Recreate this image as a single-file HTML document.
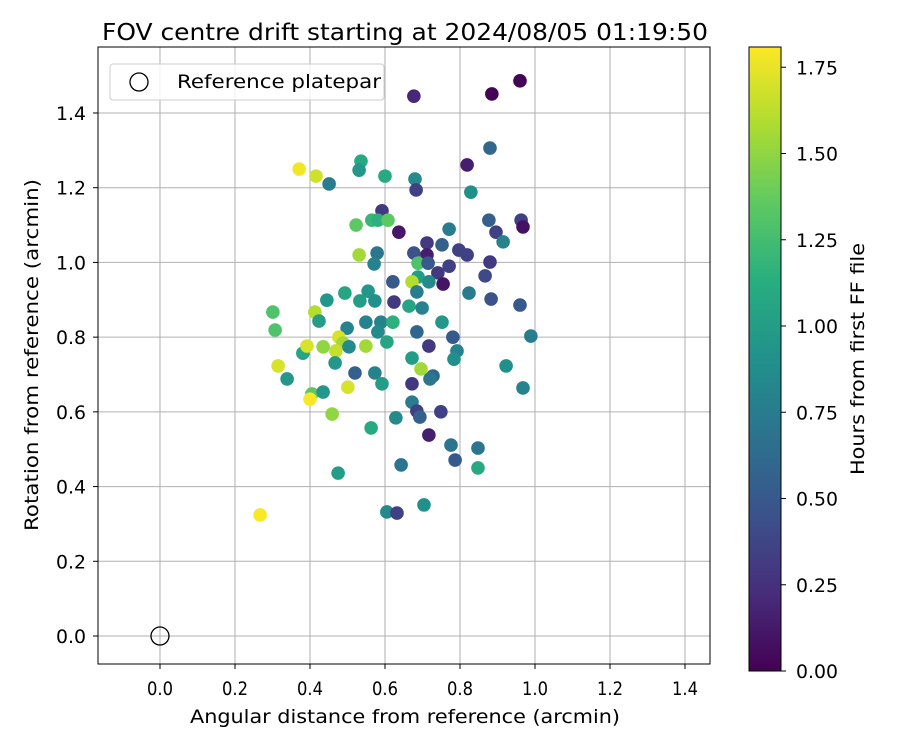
<!DOCTYPE html>
<html><head><meta charset="utf-8">
<style>
html,body{margin:0;padding:0;background:#fff;}
svg text{font-family:"DejaVu Sans","Liberation Sans",sans-serif;fill:#000;}
</style></head>
<body>
<svg id="chart" width="900" height="750" viewBox="0 0 900 750" xmlns="http://www.w3.org/2000/svg">
<defs>
<linearGradient id="vir" x1="0" y1="1" x2="0" y2="0">
<stop offset="0" stop-color="#440154"/><stop offset="0.125" stop-color="#472d7b"/>
<stop offset="0.25" stop-color="#3b528b"/><stop offset="0.375" stop-color="#2c728e"/>
<stop offset="0.5" stop-color="#21918c"/><stop offset="0.625" stop-color="#28ae80"/>
<stop offset="0.75" stop-color="#5ec962"/><stop offset="0.875" stop-color="#addc30"/>
<stop offset="1" stop-color="#fde725"/>
</linearGradient>
</defs>
<text x="405" y="40" font-size="23" text-anchor="middle" textLength="606" lengthAdjust="spacingAndGlyphs">FOV centre drift starting at 2024/08/05 01:19:50</text>
<g id="grid"></g>
<g id="points"></g>
<rect x="98" y="47" width="612" height="617" fill="none" stroke="#000" stroke-width="1"/>
<g id="xticks"></g>
<g id="yticks"></g>
<text x="405" y="723" font-size="19" text-anchor="middle" textLength="430" lengthAdjust="spacingAndGlyphs">Angular distance from reference (arcmin)</text>
<text transform="translate(38,355) rotate(-90)" font-size="19" text-anchor="middle" textLength="352" lengthAdjust="spacingAndGlyphs">Rotation from reference (arcmin)</text>
<g>
<rect x="110" y="64" width="274" height="36" rx="3" fill="#fff" fill-opacity="0.8" stroke="#ccc"/>
<circle cx="139" cy="82" r="9" fill="none" stroke="#000" stroke-width="1.3"/>
<text x="177" y="88" font-size="19" textLength="204" lengthAdjust="spacingAndGlyphs">Reference platepar</text>
</g>
<g>
<rect x="749" y="47" width="32" height="624" fill="url(#vir)" stroke="#000" stroke-width="1"/>
<g id="cticks"></g>
<text transform="translate(864,359) rotate(-90)" font-size="19" text-anchor="middle" textLength="232" lengthAdjust="spacingAndGlyphs">Hours from first FF file</text>
</g>
</svg>
<script>
const xTickLabels=["0.0","0.2","0.4","0.6","0.8","1.0","1.2","1.4"];
const xTickValues=[0,0.2,0.4,0.6,0.8,1.0,1.2,1.4];
const yTickLabels=["0.0","0.2","0.4","0.6","0.8","1.0","1.2","1.4"];
const yTickValues=[0,0.2,0.4,0.6,0.8,1.0,1.2,1.4];
const cTickLabels=["0.00","0.25","0.50","0.75","1.00","1.25","1.50","1.75"];
const cTickValues=[0,0.25,0.5,0.75,1.0,1.25,1.5,1.75];
const xs=[0.677,0.885,0.960,0.371,0.416,0.451,0.536,0.531,0.600,0.680,0.683,0.592,0.523,0.565,0.581,0.608,0.637,0.771,0.712,0.752,0.531,0.579,0.571,0.677,0.712,0.688,0.715,0.771,0.741,0.755,0.621,0.688,0.672,0.717,0.685,0.624,0.664,0.699,0.493,0.555,0.533,0.573,0.445,0.301,0.413,0.424,0.307,0.499,0.549,0.589,0.621,0.752,0.685,0.581,0.477,0.880,0.819,0.829,0.877,0.963,0.896,0.968,0.915,0.797,0.819,0.880,0.867,0.824,0.883,0.960,0.781,0.989,0.381,0.392,0.435,0.488,0.469,0.504,0.549,0.605,0.717,0.792,0.784,0.467,0.315,0.339,0.520,0.573,0.592,0.672,0.696,0.728,0.720,0.672,0.923,0.968,0.405,0.435,0.400,0.501,0.672,0.685,0.693,0.749,0.459,0.629,0.563,0.717,0.776,0.848,0.787,0.848,0.643,0.475,0.267,0.605,0.632,0.704];
const ys=[1.445,1.451,1.486,1.250,1.231,1.210,1.271,1.247,1.231,1.223,1.194,1.138,1.100,1.113,1.113,1.113,1.081,1.089,1.052,1.047,1.020,1.025,0.996,1.025,1.020,0.998,0.998,0.990,0.972,0.942,0.948,0.961,0.948,0.948,0.921,0.894,0.883,0.878,0.918,0.923,0.897,0.897,0.899,0.867,0.867,0.843,0.819,0.824,0.840,0.840,0.840,0.840,0.814,0.814,0.800,1.306,1.261,1.188,1.113,1.113,1.081,1.095,1.055,1.033,1.020,1.001,0.964,0.918,0.902,0.886,0.800,0.803,0.757,0.776,0.774,0.784,0.763,0.774,0.776,0.787,0.776,0.763,0.741,0.731,0.723,0.688,0.704,0.704,0.675,0.744,0.715,0.696,0.688,0.675,0.723,0.664,0.648,0.653,0.634,0.666,0.626,0.602,0.586,0.600,0.594,0.584,0.557,0.538,0.511,0.503,0.471,0.450,0.458,0.436,0.324,0.332,0.329,0.351];
const hours=[0.2,0.02,0.02,1.78,1.68,0.75,1.1,0.95,1.1,0.85,0.35,0.3,1.35,1.2,1.15,1.35,0.12,0.75,0.3,0.55,1.55,0.7,0.8,0.45,0.15,1.3,0.5,0.35,0.3,0.1,0.5,1.0,1.6,0.85,0.75,0.3,1.05,0.8,1.05,0.95,1.0,0.9,0.95,1.3,1.6,1.0,1.3,0.8,0.8,0.8,1.15,0.95,0.6,0.85,1.7,0.6,0.15,0.9,0.55,0.35,0.35,0.08,0.8,0.35,0.35,0.3,0.4,0.75,0.45,0.5,0.5,0.75,1.05,1.7,1.5,1.55,1.65,0.85,1.55,1.05,0.3,0.8,0.9,0.95,1.7,0.95,0.55,0.8,1.0,1.0,1.55,0.6,0.7,0.3,0.9,0.8,1.35,0.95,1.8,1.7,0.75,0.35,0.55,0.35,1.5,0.85,1.1,0.15,0.7,0.7,0.5,1.1,0.7,1.0,1.8,0.85,0.35,0.9];
const refX=[0], refY=[0];

const NS="http://www.w3.org/2000/svg";
const X0=98,X1=710,Y0=47,Y1=664;
const xmin=-0.1653,xmax=1.4667,ymin=-0.0749,ymax=1.5766;
const cmin=0,cmax=1.8087;
function sx(v){return X0+(v-xmin)/(xmax-xmin)*(X1-X0);}
function sy(v){return Y1-(v-ymin)/(ymax-ymin)*(Y1-Y0);}
function sc(v){return 671-(v-cmin)/(cmax-cmin)*624;}
const vstops=[[68,1,84],[71,45,123],[59,82,139],[44,114,142],[33,145,140],[40,174,128],[94,201,98],[173,220,48],[253,231,37]];
function viridis(t){t=Math.max(0,Math.min(1,t));const f=t*8;const i=Math.min(7,Math.floor(f));const r=f-i;const a=vstops[i],b=vstops[i+1];
return "rgb("+a.map((c,k)=>Math.round(c+(b[k]-c)*r)).join(",")+")";}
function mk(tag,attrs,parent){const e=document.createElementNS(NS,tag);for(const k in attrs)e.setAttribute(k,attrs[k]);parent.appendChild(e);return e;}
const grid=document.getElementById('grid');
xTickValues.forEach(v=>{const l=mk('line',{x1:sx(v),x2:sx(v),y1:Y0,y2:Y1,stroke:'#b0b0b0','stroke-width':1},grid);

});
yTickValues.forEach(v=>{const l=mk('line',{x1:X0,x2:X1,y1:sy(v),y2:sy(v),stroke:'#b0b0b0','stroke-width':1},grid);

});
const xt=document.getElementById('xticks');
xTickValues.forEach((v,i)=>{mk('line',{x1:sx(v),x2:sx(v),y1:Y1,y2:Y1+5,stroke:'#000'},xt);
const t=mk('text',{x:sx(v),y:Y1+31,'font-size':19,'text-anchor':'middle',textLength:26,lengthAdjust:'spacingAndGlyphs'},xt);t.textContent=xTickLabels[i];

});
const yt=document.getElementById('yticks');
yTickValues.forEach((v,i)=>{mk('line',{x1:X0-5,x2:X0,y1:sy(v),y2:sy(v),stroke:'#000'},yt);
const t=mk('text',{x:X0-12,y:sy(v)+7,'font-size':19,'text-anchor':'end',textLength:30,lengthAdjust:'spacingAndGlyphs'},yt);t.textContent=yTickLabels[i];

});
const ct=document.getElementById('cticks');
cTickValues.forEach((v,i)=>{mk('line',{x1:781,x2:786,y1:sc(v),y2:sc(v),stroke:'#000'},ct);
const t=mk('text',{x:796,y:sc(v)+7,'font-size':19,textLength:42,lengthAdjust:'spacingAndGlyphs'},ct);t.textContent=cTickLabels[i];

});
const pts=document.getElementById('points');
xs.forEach((x,i)=>{const c=mk('circle',{cx:sx(x),cy:sy(ys[i]),r:6.8,fill:viridis((hours[i]-cmin)/(cmax-cmin))},pts);

});
refX.forEach((x,i)=>{const c=mk('circle',{cx:sx(x),cy:sy(refY[i]),r:9,fill:'none',stroke:'#000','stroke-width':1.3},pts);

});
</script>
</body></html>
